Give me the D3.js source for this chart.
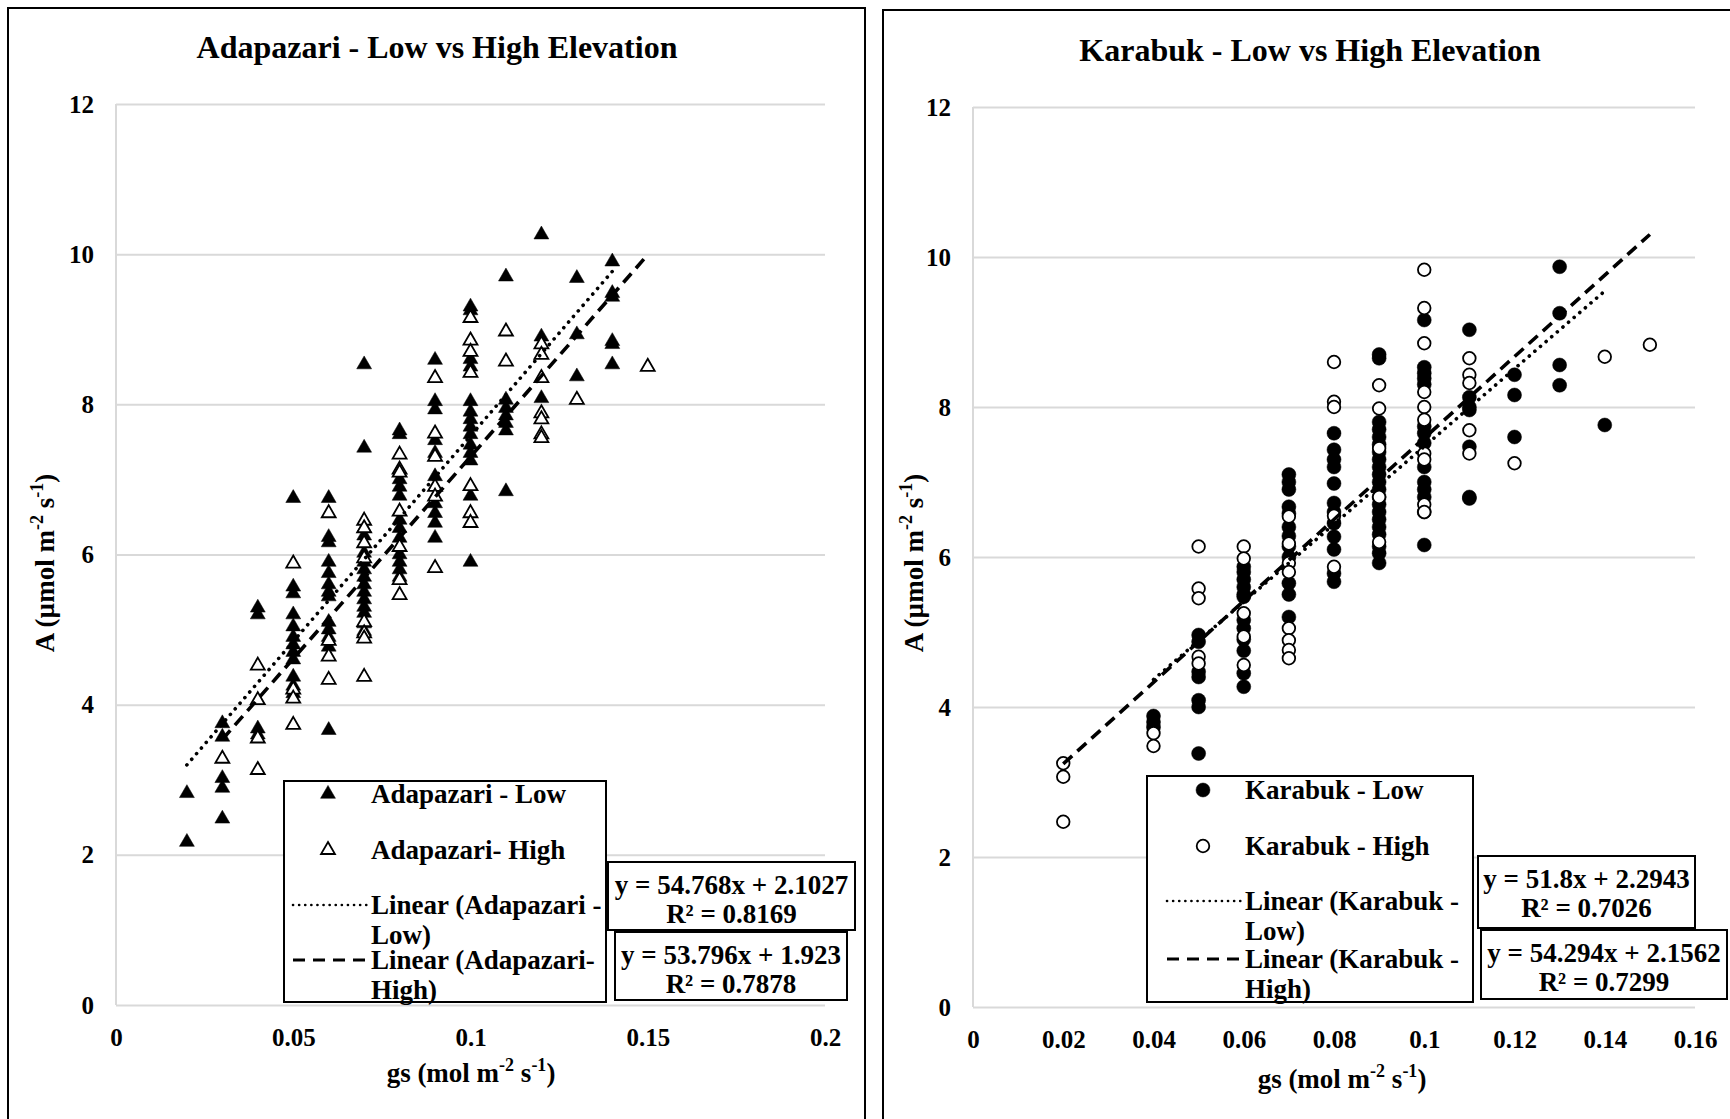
<!DOCTYPE html>
<html>
<head>
<meta charset="utf-8">
<script src="https://cdn.jsdelivr.net/npm/d3@7"></script>
<style>
  body { margin: 0; background: #fff; }
  svg { display: block; }
  text { font-family: "Liberation Serif", "Times New Roman", serif; font-weight: bold; fill: #000; }
</style>
</head>
<body>
<script>
// ---- data: [gs, [A values at that gs]] ----
const adaLow = [
  [0.02, [2.82, 2.17]],
  [0.03, [3.75, 3.57, 3.02, 2.89, 2.48]],
  [0.04, [5.29, 5.2, 3.68, 3.6]],
  [0.05, [6.75, 5.57, 5.48, 5.2, 5.04, 4.9, 4.8, 4.7, 4.6, 4.37, 4.25, 4.15]],
  [0.06, [6.75, 6.23, 6.16, 5.9, 5.75, 5.6, 5.5, 5.44, 5.1, 5.0, 4.9, 4.77, 3.66]],
  [0.07, [8.53, 7.42, 6.35, 6.25, 6.02, 5.9, 5.8, 5.7, 5.6, 5.5, 5.4, 5.3, 5.22, 5.08, 4.98]],
  [0.08, [7.65, 7.6, 7.0, 6.9, 6.78, 6.46, 6.35, 6.22, 6.0, 5.9, 5.8, 5.7]],
  [0.09, [8.59, 8.04, 7.93, 7.52, 7.35, 7.04, 6.68, 6.55, 6.42, 6.22]],
  [0.10, [9.3, 9.25, 8.6, 8.5, 8.04, 7.9, 7.8, 7.7, 7.6, 7.46, 7.35, 7.25, 6.78, 5.9]],
  [0.11, [9.7, 8.06, 7.95, 7.85, 7.75, 7.65, 6.84]],
  [0.12, [10.26, 8.9, 8.08]],
  [0.13, [9.68, 8.93, 8.37]],
  [0.14, [9.9, 9.48, 9.43, 8.84, 8.8, 8.53]]
];
const adaHigh = [
  [0.03, [3.28]],
  [0.04, [4.52, 4.06, 3.55, 3.13]],
  [0.05, [5.88, 4.2, 4.08, 3.73]],
  [0.06, [6.55, 4.85, 4.64, 4.33]],
  [0.07, [6.45, 6.35, 6.15, 5.95, 5.1, 4.95, 4.88, 4.37]],
  [0.08, [7.33, 7.13, 7.09, 6.57, 6.1, 5.66, 5.46]],
  [0.09, [8.35, 7.61, 7.3, 6.9, 6.77, 5.82]],
  [0.10, [9.15, 8.85, 8.7, 8.42, 6.91, 6.55, 6.42]],
  [0.11, [8.97, 8.57]],
  [0.12, [8.8, 8.66, 8.35, 7.88, 7.8, 7.6, 7.55]],
  [0.13, [8.06]],
  [0.15, [8.5]]
];
const karLow = [
  [0.04, [3.88, 3.8, 3.73]],
  [0.05, [4.96, 4.87, 4.47, 4.4, 4.09, 4.0, 3.38]],
  [0.06, [5.87, 5.8, 5.7, 5.6, 5.5, 5.47, 5.16, 5.05, 4.9, 4.75, 4.45, 4.27]],
  [0.07, [7.1, 7.0, 6.9, 6.67, 6.58, 6.4, 6.28, 6.14, 6.0, 5.65, 5.5, 5.2]],
  [0.08, [7.65, 7.43, 7.3, 7.2, 6.98, 6.72, 6.6, 6.45, 6.27, 6.1, 5.78, 5.67]],
  [0.09, [8.7, 8.65, 7.8, 7.7, 7.6, 7.5, 7.4, 7.3, 7.2, 7.1, 7.0, 6.9, 6.8, 6.7, 6.6, 6.5, 6.4, 6.3, 6.14, 6.05, 5.92]],
  [0.10, [9.16, 8.53, 8.45, 8.38, 8.3, 7.74, 7.65, 7.52, 7.2, 7.0, 6.9, 6.8, 6.6, 6.16]],
  [0.11, [9.03, 8.13, 8.0, 7.96, 7.47, 6.8, 6.78]],
  [0.12, [8.43, 8.16, 7.6]],
  [0.13, [9.87, 9.25, 8.56, 8.29]],
  [0.14, [7.76]]
];
const karHigh = [
  [0.02, [3.25, 3.07, 2.47]],
  [0.04, [3.65, 3.48]],
  [0.05, [6.14, 5.58, 5.45, 4.67, 4.58]],
  [0.06, [6.14, 5.98, 5.25, 4.94, 4.56]],
  [0.07, [6.54, 6.18, 5.92, 5.8, 5.05, 4.89, 4.76, 4.65]],
  [0.08, [8.6, 8.07, 8.0, 6.55, 5.87]],
  [0.09, [8.29, 7.98, 7.45, 6.8, 6.2]],
  [0.10, [9.83, 9.32, 8.85, 8.2, 8.0, 7.83, 7.38, 7.3, 6.7, 6.6]],
  [0.11, [8.65, 8.43, 8.32, 7.69, 7.38]],
  [0.12, [7.25]],
  [0.14, [8.67]],
  [0.15, [8.83]]
];

// trendlines: [slope, intercept, gsFrom, gsTo]
const adaLowFit = [54.768, 2.1027, 0.02, 0.14];
const adaHighFit = [53.796, 1.923, 0.03, 0.15];
const karLowFit = [51.8, 2.2943, 0.04, 0.14];
const karHighFit = [54.294, 2.1562, 0.02, 0.15];

const yTicks = [0, 2, 4, 6, 8, 10, 12];
const adaXTicks = [0, 0.05, 0.1, 0.15, 0.2];
const adaXLabels = ["0", "0.05", "0.1", "0.15", "0.2"];
const karXTicks = [0, 0.02, 0.04, 0.06, 0.08, 0.1, 0.12, 0.14, 0.16];
const karXLabels = ["0", "0.02", "0.04", "0.06", "0.08", "0.1", "0.12", "0.14", "0.16"];

const adaLegend = ["Adapazari - Low", "Adapazari- High", ["Linear (Adapazari -", "Low)"], ["Linear (Adapazari-", "High)"]];
const karLegend = ["Karabuk - Low", "Karabuk - High", ["Linear (Karabuk -", "Low)"], ["Linear (Karabuk -", "High)"]];
const adaEq = [["y = 54.768x + 2.1027", "R² = 0.8169"], ["y = 53.796x + 1.923", "R² = 0.7878"]];
const karEq = [["y = 51.8x + 2.2943", "R² = 0.7026"], ["y = 54.294x + 2.1562", "R² = 0.7299"]];

const svg = d3.select("body").append("svg")
  .attr("width", 1730)
  .attr("height", 1119);

const flat = series => series.flatMap(([g, vals]) => vals.map(a => [g, a]));
const DOT = "0.1 7.3", DASH = "12 7";

function drawPanel(p) {
  const g = svg.append("g");

  // outer frame
  g.append("rect")
    .attr("x", p.frame[0]).attr("y", p.frame[1])
    .attr("width", p.frame[2]).attr("height", p.frame[3])
    .attr("fill", "none").attr("stroke", "#000").attr("stroke-width", 2);

  const x = d3.scaleLinear().domain([0, p.xMax]).range([p.left, p.right]);
  const y = d3.scaleLinear().domain([0, 12]).range([p.bottom, p.top]);

  // gridlines
  g.append("g")
    .attr("transform", `translate(${p.left},0)`)
    .call(d3.axisLeft(y).tickValues(yTicks).tickSize(-(p.right - p.left)).tickFormat(""))
    .call(s => s.select(".domain").remove())
    .call(s => s.selectAll("line").attr("stroke", "#d9d9d9").attr("stroke-width", 2));
  g.append("line")
    .attr("x1", p.left).attr("x2", p.left).attr("y1", p.top).attr("y2", p.bottom)
    .attr("stroke", "#d9d9d9").attr("stroke-width", 2);

  // y tick labels
  g.append("g")
    .attr("transform", `translate(${p.left},0)`)
    .call(d3.axisLeft(y).tickValues(yTicks).tickSize(0).tickPadding(22))
    .call(s => s.select(".domain").remove())
    .call(s => s.selectAll("text").attr("font-size", 25).attr("font-family", null));

  // x tick labels
  g.append("g")
    .attr("transform", `translate(0,${p.bottom})`)
    .call(d3.axisBottom(x).tickValues(p.xTicks).tickFormat((d, i) => p.xLabels[i]).tickSize(0).tickPadding(p.xPad))
    .call(s => s.select(".domain").remove())
    .call(s => s.selectAll("text").attr("font-size", 25).attr("font-family", null));

  // titles
  g.append("text").attr("x", p.titleX).attr("y", p.titleY)
    .attr("text-anchor", "middle").attr("font-size", 32).text(p.title);

  const unitTitle = (sel, label) => {
    sel.append("tspan").text(label + " (" + (label === "A" ? "µ" : "") + "mol m");
    sel.append("tspan").attr("font-size", 18).attr("dy", -11).text("-2");
    sel.append("tspan").attr("dy", 11).text(" s");
    sel.append("tspan").attr("font-size", 18).attr("dy", -11).text("-1");
    sel.append("tspan").attr("dy", 11).text(")");
  };
  g.append("text").attr("x", p.xTitleX).attr("y", p.xTitleY)
    .attr("text-anchor", "middle").attr("font-size", 27)
    .call(s => unitTitle(s, "gs"));
  g.append("text")
    .attr("transform", `translate(${p.yTitleX},${p.yTitleY}) rotate(-90)`)
    .attr("text-anchor", "middle").attr("font-size", 27)
    .call(s => unitTitle(s, "A"));

  // markers
  const marker = (sel, filled) => {
    if (p.shape === "tri") {
      sel.append("path")
        .attr("d", d3.symbol(d3.symbolTriangle, filled ? 96 : 84))
        .attr("fill", filled ? "#000" : "#fff")
        .attr("stroke", "#000").attr("stroke-width", filled ? 0.5 : 1.8);
    } else {
      sel.append("circle")
        .attr("r", filled ? 7 : 6.3)
        .attr("fill", filled ? "#000" : "#fff")
        .attr("stroke", "#000").attr("stroke-width", filled ? 0.5 : 1.8);
    }
  };

  g.append("g").selectAll("g").data(flat(p.low)).join("g")
    .attr("transform", d => `translate(${x(d[0])},${y(d[1])})`)
    .call(s => marker(s, true));
  g.append("g").selectAll("g").data(flat(p.high)).join("g")
    .attr("transform", d => `translate(${x(d[0])},${y(d[1])})`)
    .call(s => marker(s, false));

  // trendlines
  const fitLine = (fit, dash, cap) => {
    const [m, b, x0, x1] = fit;
    g.append("line")
      .attr("x1", x(x0)).attr("y1", y(m * x0 + b))
      .attr("x2", x(x1)).attr("y2", y(m * x1 + b))
      .attr("stroke", "#000").attr("stroke-width", 3.6)
      .attr("stroke-dasharray", dash).attr("stroke-linecap", cap);
  };
  fitLine(p.lowFit, DOT, "round");
  fitLine(p.highFit, DASH, "butt");

  // legend
  const L = p.legend;
  g.append("rect").attr("x", L.x).attr("y", L.y).attr("width", L.w).attr("height", L.h)
    .attr("fill", "#fff").attr("stroke", "#000").attr("stroke-width", 2);
  const lg = g.append("g");
  marker(lg.append("g").attr("transform", `translate(${L.mx},${L.rows[0]})`), true);
  marker(lg.append("g").attr("transform", `translate(${L.mx},${L.rows[1]})`), false);
  [["0.1 6", "round", 2.6], ["12 8", "butt", 3.2]].forEach(([dash, cap, sw], i) => {
    lg.append("line")
      .attr("x1", L.lx0).attr("x2", L.lx1)
      .attr("y1", L.rows[2 + i]).attr("y2", L.rows[2 + i])
      .attr("stroke", "#000").attr("stroke-width", sw)
      .attr("stroke-dasharray", dash).attr("stroke-linecap", cap);
  });
  p.legendText.forEach((t, i) => {
    const lines = Array.isArray(t) ? t : [t];
    lines.forEach((s, j) => {
      lg.append("text").attr("x", L.tx).attr("y", L.rows[i] + 9 + j * 30)
        .attr("font-size", 27).text(s);
    });
  });

  // equation boxes
  p.eqBoxes.forEach((bx, i) => {
    g.append("rect").attr("x", bx[0]).attr("y", bx[1]).attr("width", bx[2]).attr("height", bx[3])
      .attr("fill", "#fff").attr("stroke", "#000").attr("stroke-width", 2);
    p.eqText[i].forEach((s, j) => {
      g.append("text").attr("x", bx[0] + bx[2] / 2).attr("y", bx[1] + 32 + j * 29)
        .attr("text-anchor", "middle").attr("font-size", 27).text(s);
    });
  });
}

drawPanel({
  frame: [8, 8, 857, 1130],
  left: 116, right: 825, top: 104, bottom: 1005,
  xMax: 0.2, xTicks: adaXTicks, xLabels: adaXLabels, xPad: 23,
  title: "Adapazari - Low vs High Elevation", titleX: 437, titleY: 58,
  xTitleX: 471, xTitleY: 1082, yTitleX: 54, yTitleY: 563,
  shape: "tri", low: adaLow, high: adaHigh, lowFit: adaLowFit, highFit: adaHighFit,
  legend: { x: 284, y: 781, w: 322, h: 221, mx: 328, tx: 371, lx0: 293, lx1: 368, rows: [794, 850, 905, 960] },
  legendText: adaLegend,
  eqBoxes: [[608, 862, 247, 68], [615, 932, 232, 68]],
  eqText: adaEq
});

drawPanel({
  frame: [883, 10, 870, 1130],
  left: 973, right: 1695, top: 107, bottom: 1007,
  xMax: 0.16, xTicks: karXTicks, xLabels: karXLabels, xPad: 23,
  title: "Karabuk - Low vs High Elevation", titleX: 1310, titleY: 61,
  xTitleX: 1342, xTitleY: 1088, yTitleX: 923, yTitleY: 563,
  shape: "circle", low: karLow, high: karHigh, lowFit: karLowFit, highFit: karHighFit,
  legend: { x: 1147, y: 776, w: 326, h: 226, mx: 1203, tx: 1245, lx0: 1167, lx1: 1241, rows: [790, 846, 901, 959] },
  legendText: karLegend,
  eqBoxes: [[1478, 856, 217, 72], [1481, 930, 246, 69]],
  eqText: karEq
});
</script>
</body>
</html>
